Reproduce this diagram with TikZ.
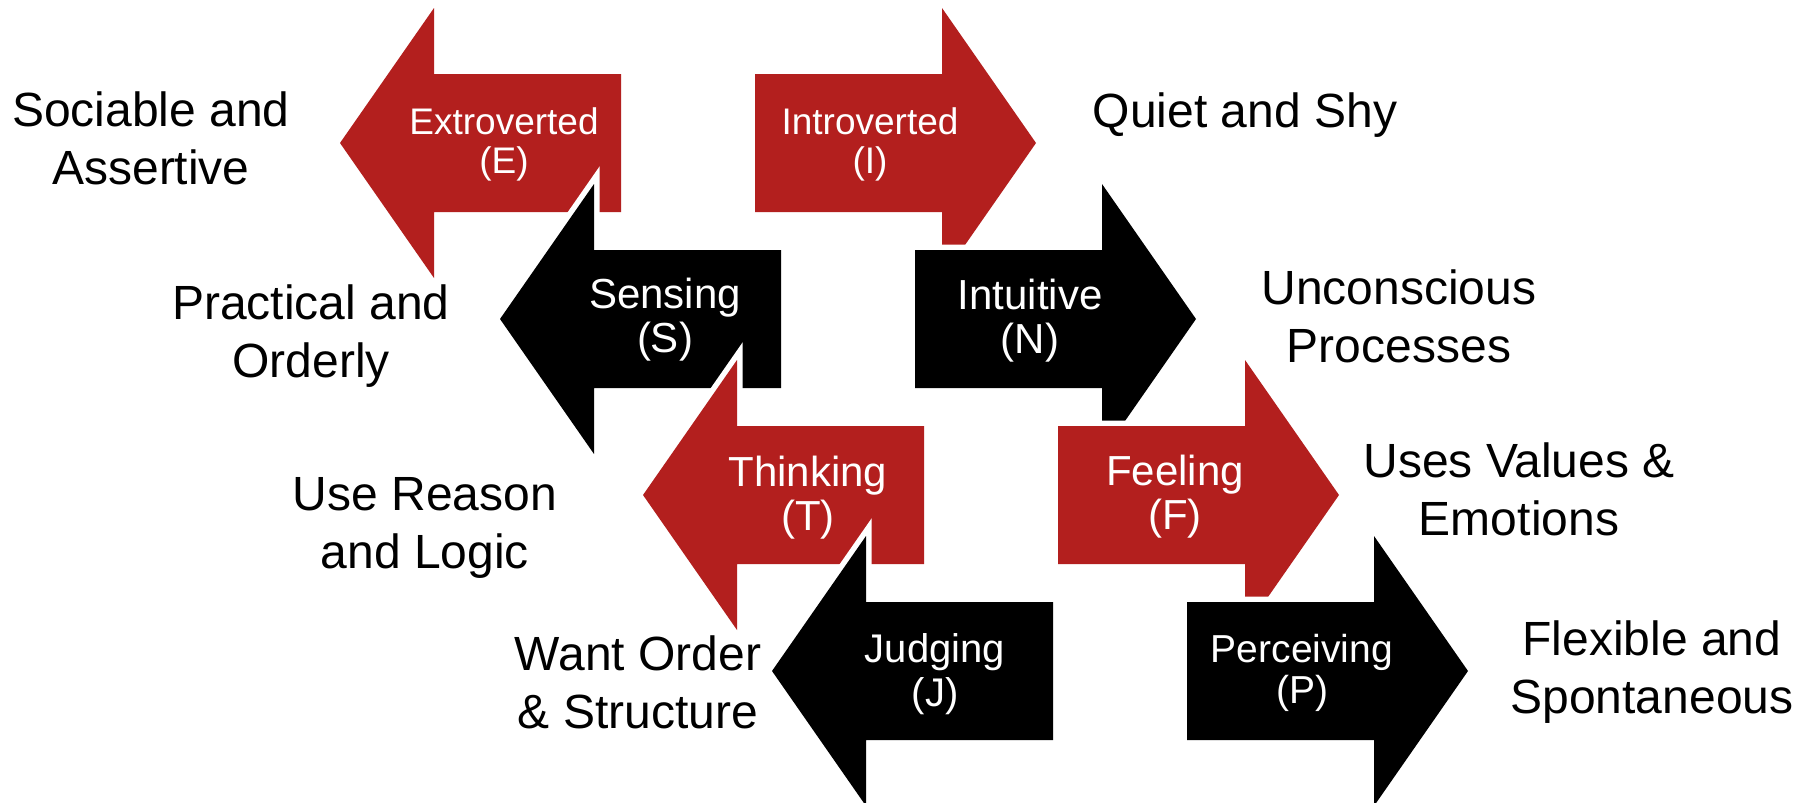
\documentclass[tikz,border=0pt]{standalone}
\usepackage{fontspec}
\setmainfont{Liberation Sans}
\definecolor{mbred}{RGB}{179,31,30}
\def\twoline#1#2{\vtop{\halign{\hfil##\hfil\cr#1\cr#2\cr}}}
% left-pointing arrow: #1 style, #2 tip x, #3 centre y
\newcommand\mbtiLeft[3]{\path[#1] (#2,#3) -- ++(94,-135) -- ++(0,66) -- ++(187,0) -- ++(0,138) -- ++(-187,0) -- ++(0,66) -- cycle;}
% right-pointing arrow: #1 style, #2 tail x, #3 centre y
\newcommand\mbtiRight[3]{\path[#1] (#2,#3) ++(0,-69) -- ++(187,0) -- ++(0,-66) -- ++(94,135) -- ++(-94,135) -- ++(0,-66) -- ++(-187,0) -- cycle;}
\tikzset{
  redarrow/.style={fill=mbred, preaction={draw=white, line width=11pt, line join=miter}},
  blackarrow/.style={fill=black, preaction={draw=white, line width=11pt, line join=miter}},
  lab/.style={font=\fontsize{48}{58}\selectfont, text=black, anchor=base, inner sep=0pt},
  alab/.style={text=white, anchor=base, inner sep=0pt},
  big/.style={font=\fontsize{42}{44}\selectfont},
  small/.style={font=\fontsize{37}{39}\selectfont},
  mid/.style={font=\fontsize{39}{41}\selectfont},
  midj/.style={font=\fontsize{40}{44}\selectfont}
}
\begin{document}
\begin{tikzpicture}[x=1pt,y=-1pt]
\useasboundingbox (0,0) rectangle (1813,803);
% arrows, in stacking order
\mbtiLeft{redarrow}{340}{143}
\mbtiRight{redarrow}{755}{143}
\mbtiLeft{blackarrow}{500}{319}
\mbtiRight{blackarrow}{915}{319}
\mbtiLeft{redarrow}{643}{495}
\mbtiRight{redarrow}{1058}{495}
\mbtiLeft{blackarrow}{772}{671}
\mbtiRight{blackarrow}{1187}{671}
% arrow texts
\node[alab, small] (tE) at (504,134) {\twoline{Extroverted}{(E)}};
\node[alab, small] (tI) at (870,134) {\twoline{Introverted}{(I)}};
\node[alab, big] (tS) at (665,308) {\twoline{Sensing}{(S)}};
\node[alab, big] (tN) at (1030,309) {\twoline{Intuitive}{(N)}};
\node[alab, big] (tT) at (808,486) {\twoline{Thinking}{(T)}};
\node[alab, big] (tF) at (1175,485) {\twoline{Feeling}{(F)}};
\node[alab, midj] (tJ) at (935,662) {\twoline{Judging}{(J)}};
\node[alab, mid] (tP) at (1302,662) {\twoline{Perceiving}{(P)}};
% side labels
\node[lab] (lE) at (151,126) {\twoline{Sociable and}{Assertive}};
\node[lab] (lI) at (1245,127) {Quiet and Shy};
\node[lab] (lS) at (311,319) {\twoline{Practical and}{Orderly}};
\node[lab] (lN) at (1399,304) {\twoline{Unconscious}{Processes}};
\node[lab] (lT) at (425,510) {\twoline{Use Reason}{and Logic}};
\node[lab] (lF) at (1519,477) {\twoline{Uses Values \&}{Emotions}};
\node[lab] (lJ) at (638,670) {\twoline{Want Order}{\& Structure}};
\node[lab] (lP) at (1652,655) {\twoline{Flexible and}{Spontaneous}};
\end{tikzpicture}
\end{document}
